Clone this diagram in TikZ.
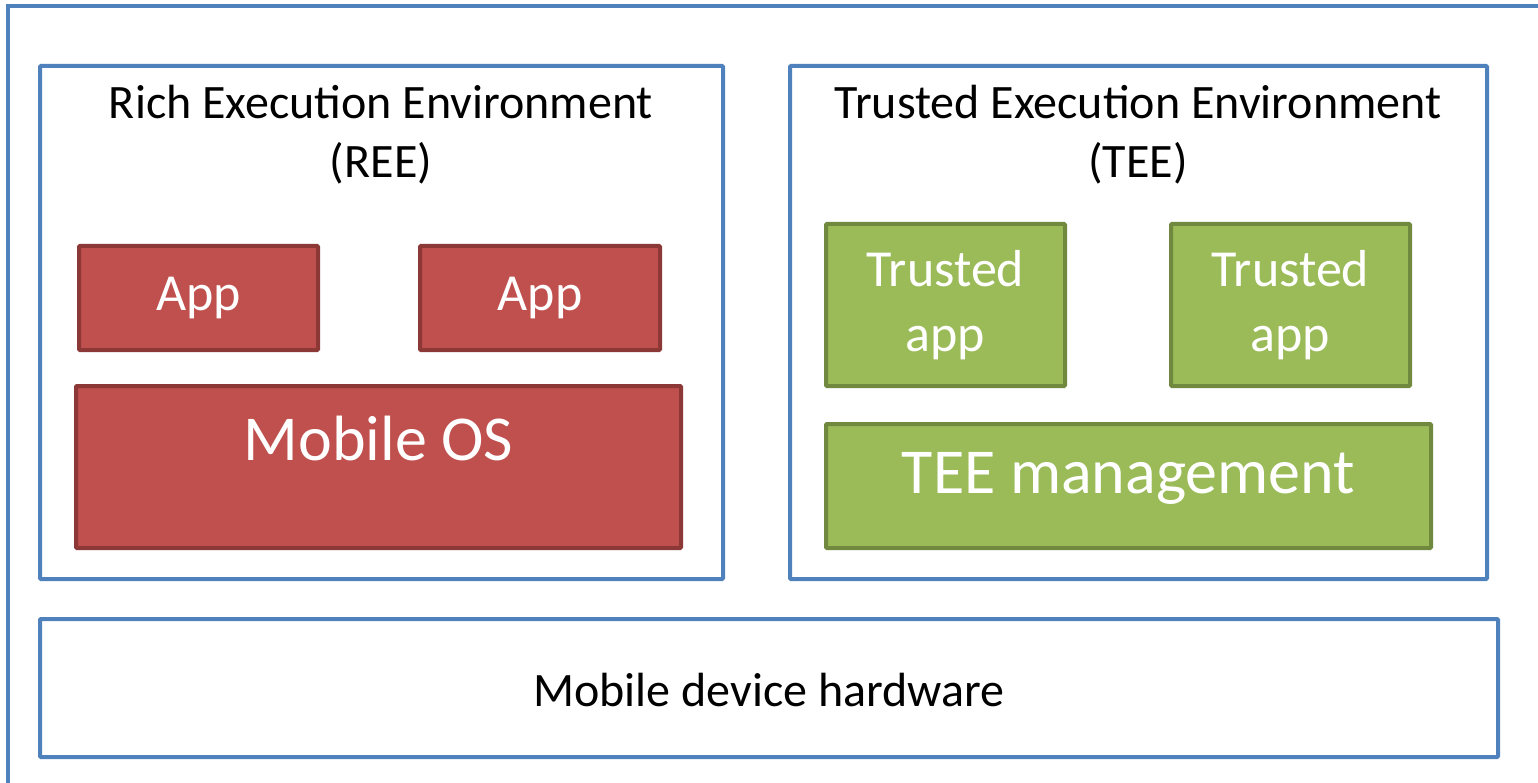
\documentclass[tikz,border=0pt]{standalone}
\usepackage{fontspec}
\setmainfont{Carlito}
\usetikzlibrary{positioning}

\definecolor{frameblue}{HTML}{4F81BD}
\definecolor{reefill}{HTML}{C0504D}
\definecolor{reeline}{HTML}{8C3836}
\definecolor{teefill}{HTML}{9BBB59}
\definecolor{teeline}{HTML}{71893F}

\tikzset{
  envbox/.style={draw=frameblue, line width=4pt, rounded corners=1pt, inner sep=0pt},
  reebox/.style={draw=reeline, fill=reefill, line width=4pt, rounded corners=1pt, text=white, align=center, inner sep=0pt},
  teebox/.style={draw=teeline, fill=teefill, line width=4pt, rounded corners=1pt, text=white, align=center, inner sep=0pt},
}

\begin{document}
\begin{tikzpicture}[x=1pt,y=-1pt]
\clip (0,0) rectangle (1538,783);
\fill[white] (0,0) rectangle (1538,783);
% device frame, runs past the page on the right and at the bottom
\draw[frameblue, line width=4pt] (8,6) rectangle (1600,830);

\node[envbox, minimum width=683pt, minimum height=513pt](REE) at (381.5, 322.5){};
\node[envbox, minimum width=697pt, minimum height=513pt](TEE) at (1138.5, 322.5){};
\node[envbox, minimum width=1458pt, minimum height=138pt](HW) at (769, 688){};

{\fontsize{48}{59}\selectfont
\node[align=center](REEt) at (381, 135){Rich Execution Environment\\(REE)};
\node[align=center](TEEt) at (1138, 135){Trusted Execution Environment\\(TEE)};
\node(HWt) at (769, 690){Mobile device hardware};
}

\node[reebox, minimum width=239pt, minimum height=104pt, font=\fontsize{52}{60}\selectfont](App1) at (198.5, 298){App};
\node[reebox, minimum width=240pt, minimum height=104pt, font=\fontsize{52}{60}\selectfont](App2) at (540, 298){App};
\node[reebox, minimum width=605pt, minimum height=162pt](OS) at (378.5, 467){};
\node[text=white, font=\fontsize{64}{76}\selectfont](OSt) at (378.5, 438){Mobile OS};

\node[teebox, minimum width=239pt, minimum height=162pt, font=\fontsize{52}{65}\selectfont](TA1) at (945.5, 305){Trusted\\app};
\node[teebox, minimum width=239pt, minimum height=162pt, font=\fontsize{52}{65}\selectfont](TA2) at (1290.5, 305){Trusted\\app};
\node[teebox, minimum width=605pt, minimum height=124pt](TM) at (1128.5, 486){};
\node[text=white, font=\fontsize{64}{76}\selectfont](TMt) at (1128.5, 478){TEE management};

\end{tikzpicture}
\end{document}
